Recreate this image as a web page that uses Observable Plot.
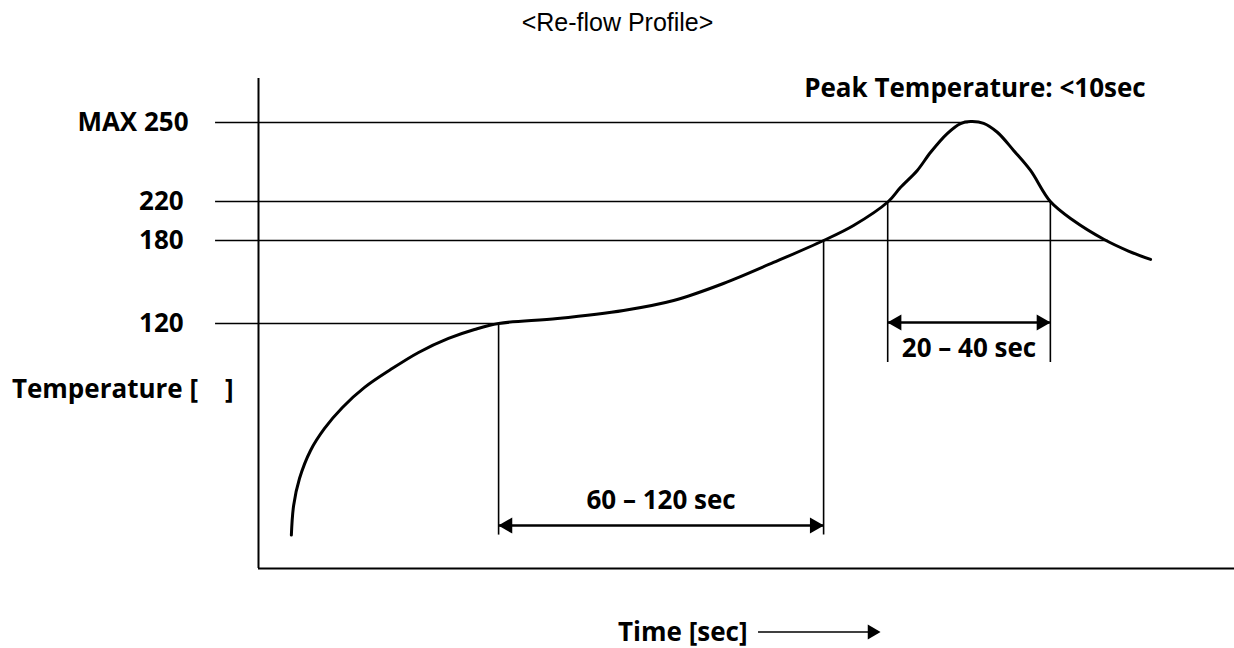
<!DOCTYPE html>
<html>
<head>
<meta charset="utf-8">
<script src="https://cdn.jsdelivr.net/npm/d3@7"></script>
<script src="https://cdn.jsdelivr.net/npm/@observablehq/plot@0.6"></script>
<style>
  html, body { margin: 0; padding: 0; background: #fff; }
  #chart svg { display: block; background: #fff; color: #000; }
</style>
</head>
<body>
<div id="chart"></div>
<script>
// ---- Data (schematic re-flow profile) ----
const profileTime = [10.1, 10.8, 12.6, 16.0, 20.3, 25.8, 32.6, 40.6, 49.2, 58.4, 66.4, 73.8, 91.9, 112.2, 127.6, 142.9, 158.3, 173.7, 182.9, 193.6, 197.3, 202.5, 206.6, 211.7, 215.8, 218.9, 222.9, 227.1, 232.1, 237.3, 243.4, 250.5, 259.8, 267.4, 274.2];
const profileTemp = [25, 38.3, 50.4, 63.0, 72.9, 82.3, 91.3, 99.3, 107.0, 113.3, 117.3, 120, 123.6, 129.4, 136.6, 148.9, 164.1, 180, 195.4, 220, 225.3, 231.8, 238.7, 245.8, 249.6, 250.3, 249.7, 246.3, 239.4, 231.8, 220, 200.5, 181.3, 172.4, 166.3];

const levelTemps  = [250, 220, 180, 120];
const levelLabels = ["MAX 250", "220", "180", "120"];
const levelEnds   = [218.2, 243.4, 261.3, 73.8];   // time where each level meets the curve

const dropTimes   = [73.8, 173.7, 193.4, 243.4];
const dropTops    = [120, 180, 220, 220];
const dropBottoms = [25, 25, 102.5, 102.5];

const spanStarts  = [73.8, 193.4];
const spanEnds    = [173.7, 243.4];
const spanTemps   = [29.3, 120.7];
const spanLabels  = ["60 – 120 sec", "20 – 40 sec"];
const spanLabelTemps = [40.5, 108.5];

const titleText = "<Re-flow Profile>";
const peakText  = "Peak Temperature: <10sec";
const yAxisText = "Temperature [\u00a0\u00a0\u00a0\u00a0]";
const xAxisText = "Time [sec]";

const timeMax = 300;
const tempMin = 10, tempMax = 265;
const axisLeftStart = -13.2;

// ---- Tables built from arrays ----
const profile = profileTime.map((t, i) => ({t, temp: profileTemp[i]}));
const levels = levelTemps.map((temp, i) => ({temp, label: levelLabels[i], end: levelEnds[i]}));
const drops = dropTimes.map((t, i) => ({t, top: dropTops[i], bottom: dropBottoms[i]}));
const spans = spanStarts.map((s, i) => ({s, e: spanEnds[i], temp: spanTemps[i], label: spanLabels[i], labelTemp: spanLabelTemps[i]}));

const bold = "'Open Sans', 'DejaVu Sans', sans-serif";
const labelStyle = {fontSize: 26, fontWeight: 700, fontFamily: bold, fill: "#000"};

const chart = Plot.plot({
  width: 1234,
  height: 648,
  margin: 0,
  style: {background: "#fff", color: "#000"},
  x: {type: "linear", domain: [0, timeMax], range: [258, 1234], axis: null},
  y: {type: "linear", domain: [tempMin, 120, 180, 220, 250, tempMax], range: [568, 323, 240, 201, 122, 78], axis: null},
  marks: [
    // title
    Plot.text([titleText], {frameAnchor: "top", dy: 13, fontSize: 25, fontFamily: "'Liberation Sans', Arial, sans-serif", fill: "#000"}),
    // axes
    Plot.ruleX([0], {y1: tempMin, y2: tempMax, stroke: "#000", strokeWidth: 2}),
    Plot.ruleY([tempMin], {x1: 0, x2: timeMax, stroke: "#000", strokeWidth: 2}),
    // level lines
    Plot.ruleY(levels, {y: "temp", x1: axisLeftStart, x2: "end", stroke: "#000", strokeWidth: 1.6}),
    Plot.text(levels, {y: "temp", x: d => d.label.length > 3 ? -21.5 : -23, text: "label", textAnchor: "end", ...labelStyle}),
    // drop lines
    Plot.ruleX(drops, {x: "t", y1: "bottom", y2: "top", stroke: "#000", strokeWidth: 1.6}),
    // profile curve
    Plot.line(profile, {x: "t", y: "temp", curve: "catmull-rom", stroke: "#000", strokeWidth: 3}),
    // span arrows
    Plot.ruleY(spans, {y: "temp", x1: "s", x2: "e", stroke: "#000", strokeWidth: 2.4}),
    Plot.dot(spans, {x: "s", y: "temp", symbol: "triangle", rotate: -90, r: 6, dx: 9, fill: "#000", stroke: null}),
    Plot.dot(spans, {x: "e", y: "temp", symbol: "triangle", rotate: 90, r: 6, dx: -9, fill: "#000", stroke: null}),
    Plot.text(spans, {x: d => (d.s + d.e) / 2, y: "labelTemp", text: "label", ...labelStyle}),
    // peak note
    Plot.text([peakText], {x: 272.7, y: 261.6, textAnchor: "end", ...labelStyle}),
    // y label
    Plot.text([yAxisText], {x: -75.8, y: 90.5, textAnchor: "start", ...labelStyle}),
    // x label and arrow
    Plot.text([xAxisText], {x: 110.5, y: -18.7, textAnchor: "start", ...labelStyle}),
    Plot.ruleY([-18.5], {x1: 153.7, x2: 188, stroke: "#000", strokeWidth: 1.5}),
    Plot.dot([-18.5], {x: 191.2, y: d => d, symbol: "triangle", rotate: 90, r: 5.5, dx: -8.5, fill: "#000", stroke: null})
  ]
});
document.getElementById("chart").append(chart);
</script>
</body>
</html>
